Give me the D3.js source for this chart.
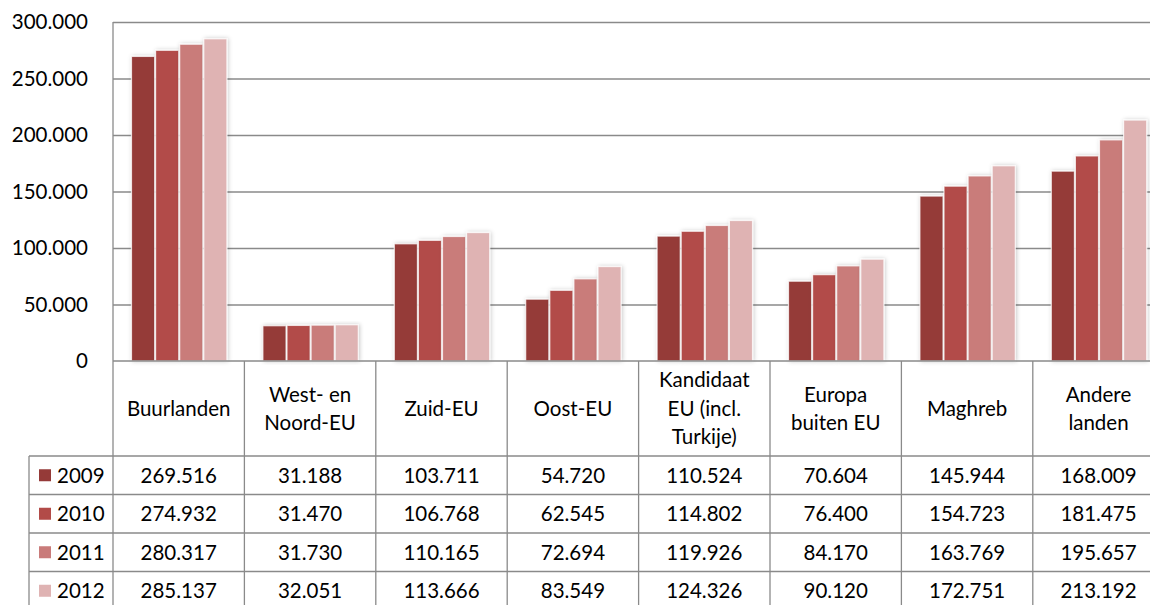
<!DOCTYPE html>
<html>
<head>
<meta charset="utf-8">
<script src="https://cdn.jsdelivr.net/npm/d3@7"></script>
<style>
  html, body { margin: 0; padding: 0; background: #fff; }
  svg { display: block; font-family: Lato, "Open Sans", sans-serif; }
</style>
</head>
<body>
<svg id="chart" width="1150" height="605"></svg>
<script>
// Categories (line breaks mark wrapped labels)
const categories = [
  "Buurlanden", "West- en\nNoord-EU", "Zuid-EU", "Oost-EU",
  "Kandidaat\nEU (incl.\nTurkije)", "Europa\nbuiten EU", "Maghreb", "Andere\nlanden"
];
const years = ["2009", "2010", "2011", "2012"];
const values2009 = [269516, 31188, 103711, 54720, 110524, 70604, 145944, 168009];
const values2010 = [274932, 31470, 106768, 62545, 114802, 76400, 154723, 181475];
const values2011 = [280317, 31730, 110165, 72694, 119926, 84170, 163769, 195657];
const values2012 = [285137, 32051, 113666, 83549, 124326, 90120, 172751, 213192];
const yTicks = [0, 50000, 100000, 150000, 200000, 250000, 300000];
const colors = ["#953a38", "#b24b48", "#c97b7a", "#dfb3b3"];

const series = [values2009, values2010, values2011, values2012];

const nl = d3.formatLocale({ decimal: ",", thousands: ".", grouping: [3], currency: ["€", ""] });
const fmt = nl.format(",");

const svg = d3.select("#chart");
const plotLeft = 113, plotTop = 22, plotBottom = 361;
const colW = 131.4;
const plotRight = plotLeft + colW * categories.length;
const gridColor = "#8a8a8a";
const fontSize = 20.5;

const x = d3.scaleBand().domain(d3.range(categories.length)).range([plotLeft, plotRight]).padding(0);
const x1 = d3.scaleBand().domain(years).range([18, colW - 17]).padding(0);
const y = d3.scaleLinear().domain([0, 300000]).range([plotBottom, plotTop]);

// drop shadow for the bars
const defs = svg.append("defs");
const f = defs.append("filter").attr("id", "shadow").attr("x", "-30%").attr("y", "-10%").attr("width", "160%").attr("height", "120%");
f.append("feDropShadow").attr("dx", 1).attr("dy", 0).attr("stdDeviation", 2.2)
  .attr("flood-color", "#000").attr("flood-opacity", 0.22);

// gridlines
const grid = svg.append("g").attr("transform", `translate(${plotLeft},0)`)
  .call(d3.axisLeft(y).tickValues(yTicks.filter(t => t > 0)).tickSize(-(plotRight - plotLeft)).tickFormat(""));
grid.select(".domain").remove();
grid.selectAll("line").attr("stroke", gridColor).attr("stroke-width", 1.3);

// y-axis labels
const yAxis = svg.append("g").attr("transform", `translate(${plotLeft},0)`)
  .call(d3.axisLeft(y).tickValues(yTicks).tickSize(0).tickPadding(25).tickFormat(d => fmt(d)));
yAxis.select(".domain").remove();
yAxis.selectAll("text").attr("font-size", fontSize).attr("fill", "#000").attr("font-family", "Lato, sans-serif");

// bars
const groups = svg.append("g").selectAll("g").data(categories).join("g")
  .attr("transform", (d, i) => `translate(${x(i)},0)`);
groups.selectAll("rect")
  .data((d, i) => years.map((yr, k) => ({ yr, k, v: series[k][i] })))
  .join("rect")
  .attr("x", d => x1(d.yr) + 0.5)
  .attr("width", x1.bandwidth() - 1)
  .attr("y", d => y(d.v))
  .attr("height", d => plotBottom - y(d.v))
  .attr("fill", d => colors[d.k])
  .attr("stroke", "#fff").attr("stroke-opacity", 0.75).attr("stroke-width", 1.2)
  .attr("filter", "url(#shadow)");

// data table
const rowTop = 456, rowH = 38.5;
const tableBottom = rowTop + rowH * years.length;
const legendLeft = 29;
const lines = svg.append("g").attr("stroke", gridColor).attr("stroke-width", 1.3);

// left axis line running down through the table
lines.append("line").attr("x1", plotLeft).attr("x2", plotLeft).attr("y1", plotTop).attr("y2", tableBottom);
// category boundaries
d3.range(1, categories.length + 1).forEach(i => {
  lines.append("line").attr("x1", x(i - 1) + colW).attr("x2", x(i - 1) + colW)
    .attr("y1", plotBottom).attr("y2", tableBottom);
});
// baseline
lines.append("line").attr("x1", plotLeft).attr("x2", plotRight).attr("y1", plotBottom).attr("y2", plotBottom);
// row separators
d3.range(years.length + 1).forEach(r => {
  lines.append("line").attr("x1", legendLeft).attr("x2", plotRight)
    .attr("y1", rowTop + r * rowH).attr("y2", rowTop + r * rowH);
});
lines.append("line").attr("x1", legendLeft).attr("x2", legendLeft).attr("y1", rowTop).attr("y2", tableBottom);

// category labels
const lineH = 28.5;
const catMid = (plotBottom + rowTop) / 2;
svg.append("g").selectAll("text").data(categories).join("text")
  .attr("text-anchor", "middle").attr("font-size", fontSize).attr("fill", "#000")
  .each(function (d, i) {
    const parts = d.split("\n");
    const t = d3.select(this);
    parts.forEach((p, j) => {
      t.append("tspan").attr("x", x(i) + colW / 2)
        .attr("y", catMid + (j - (parts.length - 1) / 2) * lineH)
        .attr("dy", "0.36em").text(p);
    });
  });

// legend keys and values
years.forEach((yr, k) => {
  const cy = rowTop + rowH * k + rowH / 2;
  svg.append("rect").attr("x", 39).attr("y", cy - 6).attr("width", 12).attr("height", 12).attr("fill", colors[k]);
  svg.append("text").attr("x", 57).attr("y", cy).attr("dy", "0.36em")
    .attr("font-size", fontSize).attr("fill", "#000").text(yr);
  svg.append("g").selectAll("text").data(series[k]).join("text")
    .attr("x", (d, i) => x(i) + colW / 2).attr("y", cy).attr("dy", "0.36em")
    .attr("text-anchor", "middle").attr("font-size", fontSize).attr("fill", "#000")
    .text(d => fmt(d));
});
</script>
</body>
</html>
